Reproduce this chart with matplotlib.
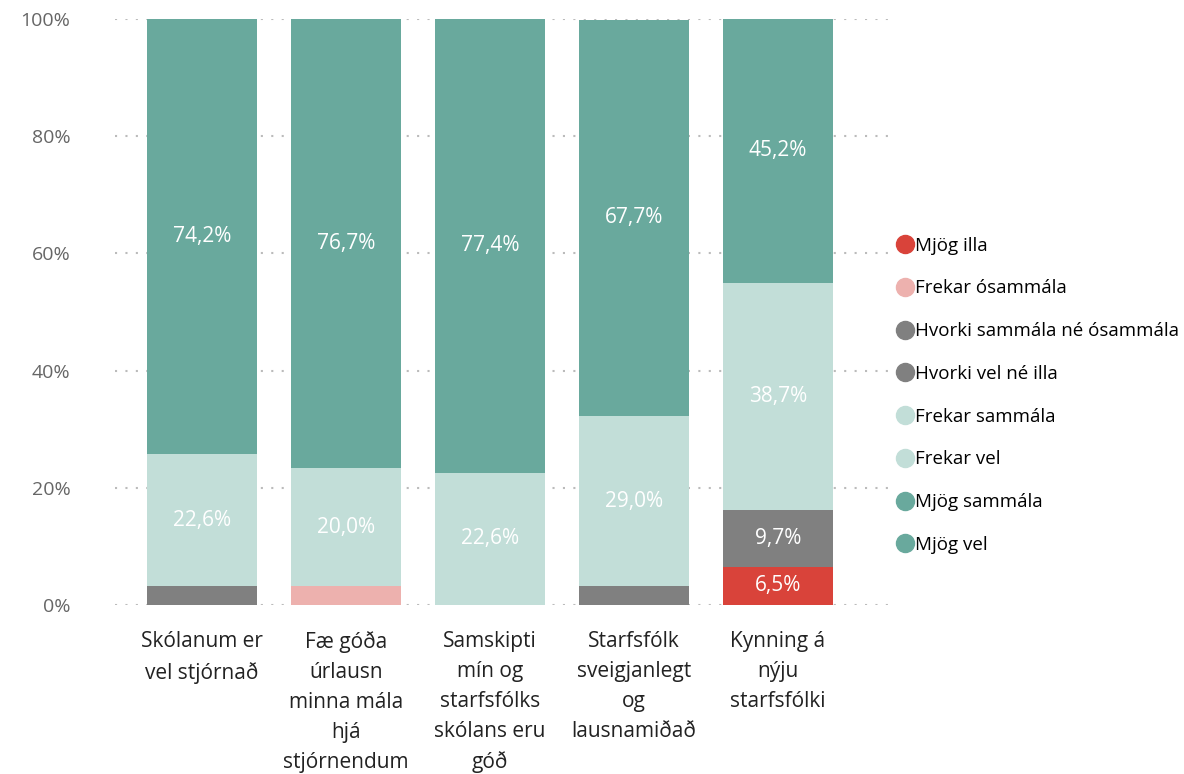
import matplotlib.pyplot as plt
from matplotlib.lines import Line2D
import numpy as np

plt.rcParams['font.family'] = ['Open Sans', 'DejaVu Sans']

categories = [
    'Skólanum er\nvel stjórnað',
    'Fæ góða\núrlausn\nminna mála\nhjá\nstjórnendum',
    'Samskipti\nmín og\nstarfsfólks\nskólans eru\ngóð',
    'Starfsfólk\nsveigjanlegt\nog\nlausnamiðað',
    'Kynning á\nnýju\nstarfsfólki',
]

# bottom to top
series_names = [
    'Mjög illa',
    'Frekar ósammála',
    'Hvorki sammála né ósammála',
    'Hvorki vel né illa',
    'Frekar sammála',
    'Frekar vel',
    'Mjög sammála',
    'Mjög vel',
]
mjog_illa = [0, 0, 0, 0, 6.5]
frekar_osammala = [0, 3.3, 0, 0, 0]
hvorki_sammala = [3.2, 0, 0, 3.2, 0]
hvorki_vel = [0, 0, 0, 0, 9.7]
frekar_sammala = [22.6, 20.0, 22.6, 29.0, 0]
frekar_vel = [0, 0, 0, 0, 38.7]
mjog_sammala = [74.2, 76.7, 77.4, 67.7, 0]
mjog_vel = [0, 0, 0, 0, 45.2]

series_values = [mjog_illa, frekar_osammala, hvorki_sammala, hvorki_vel,
                 frekar_sammala, frekar_vel, mjog_sammala, mjog_vel]
colors = ['#D9433A', '#EDB1AE', '#808080', '#808080',
          '#C2DED8', '#C2DED8', '#69A99D', '#69A99D']

fig = plt.figure(figsize=(11.84, 7.74), dpi=100)
ax = fig.add_axes([0.097, 0.2183, 0.655, 0.7572])

x = np.arange(len(categories))
bottom = np.zeros(len(categories))
for name, vals, col in zip(series_names, series_values, colors):
    vals = np.array(vals, dtype=float)
    ax.bar(x, vals, bottom=bottom, width=0.765, color=col, zorder=2)
    for xi, v, b in zip(x, vals, bottom):
        if v >= 5:
            ax.text(xi, b + v / 2, f'{v:.1f}%'.replace('.', ','),
                    ha='center', va='center', color='white', fontsize=15, zorder=3)
    bottom += vals

ax.set_xlim(-0.604, 4.78)
ax.set_ylim(0, 100)
ax.set_yticks([0, 20, 40, 60, 80, 100])
ax.set_yticklabels([f'{v}%' for v in [0, 20, 40, 60, 80, 100]])
ax.set_xticks(x)
ax.set_xticklabels(categories, fontsize=15, color='#222222', linespacing=1.55, va='top')
ax.tick_params(axis='x', length=0, pad=19)
ax.tick_params(axis='y', length=0, pad=32, labelsize=14, labelcolor='#666666')
ax.grid(axis='y', linestyle=(0, (1, 4)), color='#bbbbbb', linewidth=1.5, zorder=0)
for s in ax.spines.values():
    s.set_visible(False)

handles = [Line2D([0], [0], marker='o', linestyle='', markersize=13,
                  markerfacecolor=c, markeredgecolor=c) for c in colors]
fig.legend(handles, series_names, loc='upper left', bbox_to_anchor=(0.749, 0.704),
           frameon=False, fontsize=13.5, labelspacing=1.32, handletextpad=0.0,
           handlelength=1.1, borderaxespad=0)

fig.savefig('out.png', dpi=100)
